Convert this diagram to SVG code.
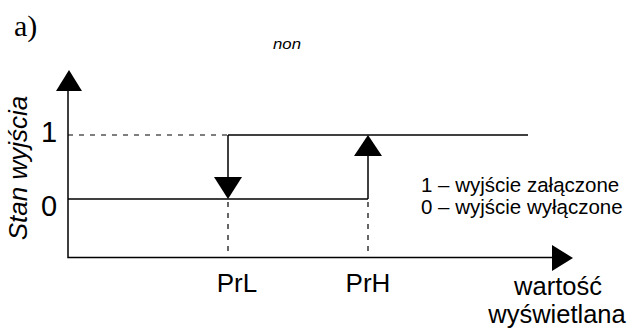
<svg xmlns="http://www.w3.org/2000/svg" width="633" height="332" viewBox="0 0 633 332">
  <style>
    .ln { stroke: #000; stroke-width: 1.5; fill: none; }
    .dash { stroke: #000; stroke-width: 1.2; fill: none; stroke-dasharray: 5 6; }
    .head { fill: #000; stroke: none; }
    .sans { font-family: "Liberation Sans", Arial, sans-serif; fill: #000; }
  </style>

  <!-- panel label -->
  <text x="14" y="36" font-family="Liberation Serif, Times New Roman, serif" font-size="30">a)</text>

  <!-- display code -->
  <text x="273" y="48.5" class="sans" font-size="14" font-style="italic" textLength="28" lengthAdjust="spacingAndGlyphs">non</text>

  <!-- axes -->
  <g id="axes">
    <polyline class="ln" points="68,90 68,257.5 555,257.5"/>
    <polygon class="head" points="69,70 56,91 82,91"/>
    <polygon class="head" points="573,258 552,245 552,271"/>
  </g>

  <!-- axis labels -->
  <text class="sans" font-size="26" font-style="italic" text-anchor="middle" transform="translate(27,168) rotate(-90)">Stan wyjścia</text>
  <text class="sans" x="49" y="142" font-size="29" text-anchor="middle">1</text>
  <text class="sans" x="49" y="216" font-size="29" text-anchor="middle">0</text>
  <text class="sans" x="237" y="291.5" font-size="26" text-anchor="middle">PrL</text>
  <text class="sans" x="368" y="291.5" font-size="26" text-anchor="middle">PrH</text>
  <text class="sans" x="558" y="295" font-size="25.5" text-anchor="middle">wartość</text>
  <text class="sans" x="557" y="323" font-size="25.5" text-anchor="middle">wyświetlana</text>

  <!-- hysteresis characteristic -->
  <g id="connectors">
    <line class="dash" x1="68" y1="135" x2="228" y2="135"/>
    <line class="ln" x1="228" y1="135" x2="528" y2="135"/>
    <line class="ln" x1="68" y1="199" x2="368" y2="199"/>
    <line class="ln" x1="228" y1="135" x2="228" y2="178"/>
    <polygon class="head" points="228,199 214,177 242,177"/>
    <line class="ln" x1="368" y1="199" x2="368" y2="155"/>
    <polygon class="head" points="368,135 354,156 382,156"/>
    <line class="dash" x1="228" y1="202" x2="228" y2="257"/>
    <line class="dash" x1="368" y1="202" x2="368" y2="257"/>
  </g>

  <!-- legend -->
  <g id="legend">
    <text class="sans" x="421" y="191.5" font-size="20.5">1 – wyjście załączone</text>
    <text class="sans" x="421" y="213.5" font-size="20.5">0 – wyjście wyłączone</text>
  </g>
</svg>
